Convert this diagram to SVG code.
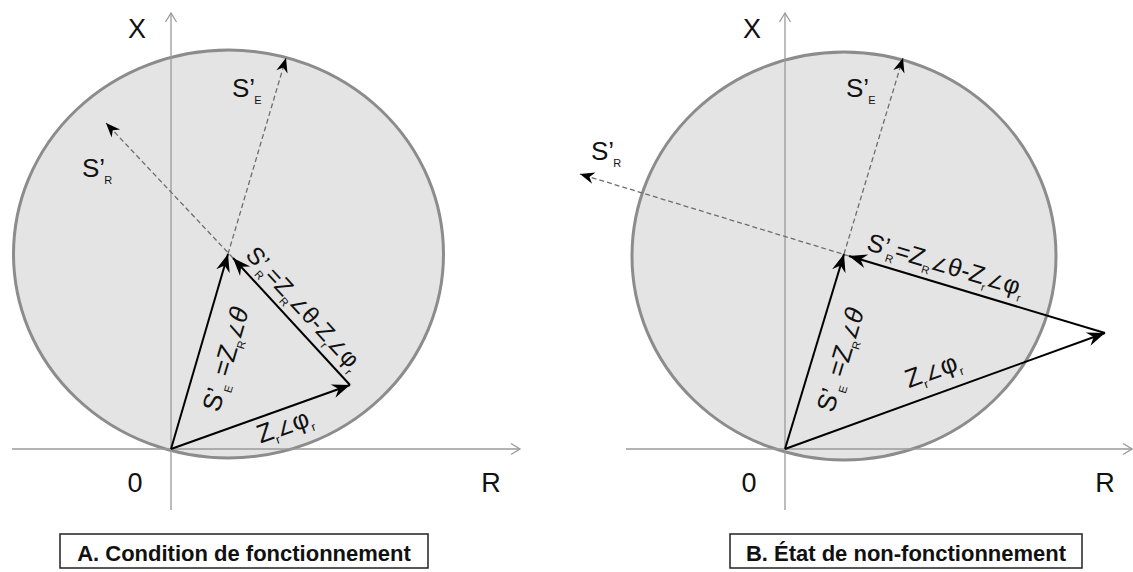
<svg xmlns="http://www.w3.org/2000/svg" width="1133" height="572" viewBox="0 0 1133 572">
<defs>
<style>
.circ{fill:#e4e4e4;stroke:#8c8c8c;stroke-width:3}
.axis{stroke:#9a9a9a;stroke-width:1.3;fill:none}
.vec{stroke:#000;stroke-width:2;fill:none}
.dash{stroke:#6e6e6e;stroke-width:1.3;stroke-dasharray:5 3;fill:none}
.lbl{font-family:"Liberation Sans",Arial,sans-serif;fill:#111}
.big{font-size:27px}
.vl{font-size:26px}
.ang{font-family:"DejaVu Sans",sans-serif;font-size:19px}
.cap{font-family:"Liberation Sans",Arial,sans-serif;font-weight:bold;font-size:22px;fill:#111}
.box{fill:#fff;stroke:#222;stroke-width:1.5}
</style>
<marker id="ah" viewBox="-19 -8 20 16" markerWidth="20" markerHeight="16" refX="0" refY="0" orient="auto" markerUnits="userSpaceOnUse">
<path d="M0,0 L-18,-7 L-12,0 L-18,7 Z" fill="#000"/>
</marker>
<marker id="ahd" viewBox="-19 -8 20 16" markerWidth="18" markerHeight="15" refX="0" refY="0" orient="auto" markerUnits="userSpaceOnUse">
<path d="M0,0 L-16,-6.5 L-11,0 L-16,6.5 Z" fill="#000"/>
</marker>
<marker id="ax" viewBox="-10 -7 12 14" markerWidth="12" markerHeight="14" refX="0" refY="0" orient="auto" markerUnits="userSpaceOnUse">
<path d="M-9,-5.5 L0,0 L-9,5.5" fill="none" stroke="#9a9a9a" stroke-width="1.3"/>
</marker>
</defs>
<rect width="1133" height="572" fill="#fff"/>

<!-- Panel A -->
<g id="panelA">
<ellipse id="circleA" class="circ" cx="228.5" cy="254" rx="215" ry="204"/>
<g id="axesA">
<line class="axis" x1="171" y1="510" x2="171" y2="13" marker-end="url(#ax)"/>
<line class="axis" x1="12" y1="449" x2="520" y2="449" marker-end="url(#ax)"/>
<text class="lbl big" x="137" y="38" text-anchor="middle">X</text>
<text class="lbl big" x="135" y="492" text-anchor="middle">0</text>
<text class="lbl big" x="491" y="492" text-anchor="middle">R</text>
</g>
<g id="connectorsA">
<line class="dash" x1="228" y1="254" x2="286" y2="58" marker-end="url(#ahd)"/>
<line class="dash" x1="233" y1="258" x2="106" y2="123" marker-end="url(#ahd)"/>
<line class="vec" x1="171" y1="449" x2="228" y2="254" marker-end="url(#ah)"/>
<line class="vec" x1="171" y1="449" x2="350" y2="385" marker-end="url(#ah)"/>
<line class="vec" x1="350" y1="385" x2="233" y2="258" marker-end="url(#ah)"/>
</g>
<g id="labelsA">
<text class="lbl" x="232" y="97" font-size="26">S’<tspan font-size="11" dx="-1" dy="7">E</tspan></text>
<text class="lbl" x="82" y="177" font-size="26">S’<tspan font-size="11" dx="-1" dy="7">R</tspan></text>
<text class="lbl vl" transform="translate(171,449) rotate(-73.7)" x="48" y="36">S’<tspan font-size="11" dx="-1" dy="6">E</tspan><tspan dy="-6"> =Z</tspan><tspan font-size="11" dy="6">R</tspan><tspan class="ang" dy="-6">∠</tspan><tspan font-style="italic">θ</tspan></text>
<text class="lbl vl" transform="translate(171,449) rotate(-19.67)" x="86" y="25">Z<tspan font-size="12" dy="6">r</tspan><tspan class="ang" dy="-6">∠</tspan><tspan>φ</tspan><tspan font-size="12" dy="6">r</tspan></text>
<text class="lbl" font-size="24" transform="translate(233,258) rotate(47.35)" x="6" y="-10">S’<tspan font-size="11" dx="-1" dy="6">R</tspan><tspan dy="-6">=Z</tspan><tspan font-size="11" dy="6">R</tspan><tspan class="ang" dy="-6">∠</tspan><tspan>θ-Z</tspan><tspan font-size="11" dy="6">r</tspan><tspan class="ang" dy="-6">∠</tspan><tspan>φ</tspan><tspan font-size="11" dy="6">r</tspan></text>
</g>
<g id="captionA">
<rect class="box" x="60" y="534" width="368" height="34"/>
<text class="cap" x="244" y="561" text-anchor="middle">A. Condition de fonctionnement</text>
</g>
</g>

<!-- Panel B -->
<g id="panelB">
<ellipse id="circleB" class="circ" cx="844" cy="256" rx="212" ry="204"/>
<g id="axesB">
<line class="axis" x1="785" y1="510" x2="785" y2="13" marker-end="url(#ax)"/>
<line class="axis" x1="626" y1="449" x2="1132" y2="449" marker-end="url(#ax)"/>
<text class="lbl big" x="752" y="38" text-anchor="middle">X</text>
<text class="lbl big" x="749" y="492" text-anchor="middle">0</text>
<text class="lbl big" x="1105" y="492" text-anchor="middle">R</text>
</g>
<g id="connectorsB">
<line class="dash" x1="844" y1="254" x2="903" y2="58" marker-end="url(#ahd)"/>
<line class="dash" x1="849" y1="256" x2="580" y2="174" marker-end="url(#ahd)"/>
<line class="vec" x1="785" y1="449" x2="844" y2="254" marker-end="url(#ah)"/>
<line class="vec" x1="785" y1="449" x2="1105" y2="333" marker-end="url(#ah)"/>
<line class="vec" x1="1105" y1="333" x2="849" y2="256" marker-end="url(#ah)"/>
</g>
<g id="labelsB">
<text class="lbl" x="846" y="97" font-size="26">S’<tspan font-size="11" dx="-1" dy="7">E</tspan></text>
<text class="lbl" x="591" y="160" font-size="26">S’<tspan font-size="11" dx="-1" dy="7">R</tspan></text>
<text class="lbl vl" transform="translate(785,449) rotate(-73.17)" x="48" y="36">S’<tspan font-size="11" dx="-1" dy="6">E</tspan><tspan dy="-6"> =Z</tspan><tspan font-size="11" dy="6">R</tspan><tspan class="ang" dy="-6">∠</tspan><tspan font-style="italic">θ</tspan></text>
<text class="lbl vl" transform="translate(785,449) rotate(-19.93)" x="137" y="-15">Z<tspan font-size="12" dy="6">r</tspan><tspan class="ang" dy="-6">∠</tspan><tspan>φ</tspan><tspan font-size="12" dy="6">r</tspan></text>
<text class="lbl" font-size="25" transform="translate(849,256) rotate(16.74)" x="14" y="-11">S’<tspan font-size="11" dx="-1" dy="6">R</tspan><tspan dy="-6">=Z</tspan><tspan font-size="11" dy="6">R</tspan><tspan class="ang" dy="-6">∠</tspan><tspan>θ-Z</tspan><tspan font-size="11" dy="6">r</tspan><tspan class="ang" dy="-6">∠</tspan><tspan>φ</tspan><tspan font-size="11" dy="6">r</tspan></text>
</g>
<g id="captionB">
<rect class="box" x="730" y="534" width="352" height="34"/>
<text class="cap" x="906" y="561" text-anchor="middle">B. État de non-fonctionnement</text>
</g>
</g>
</svg>
